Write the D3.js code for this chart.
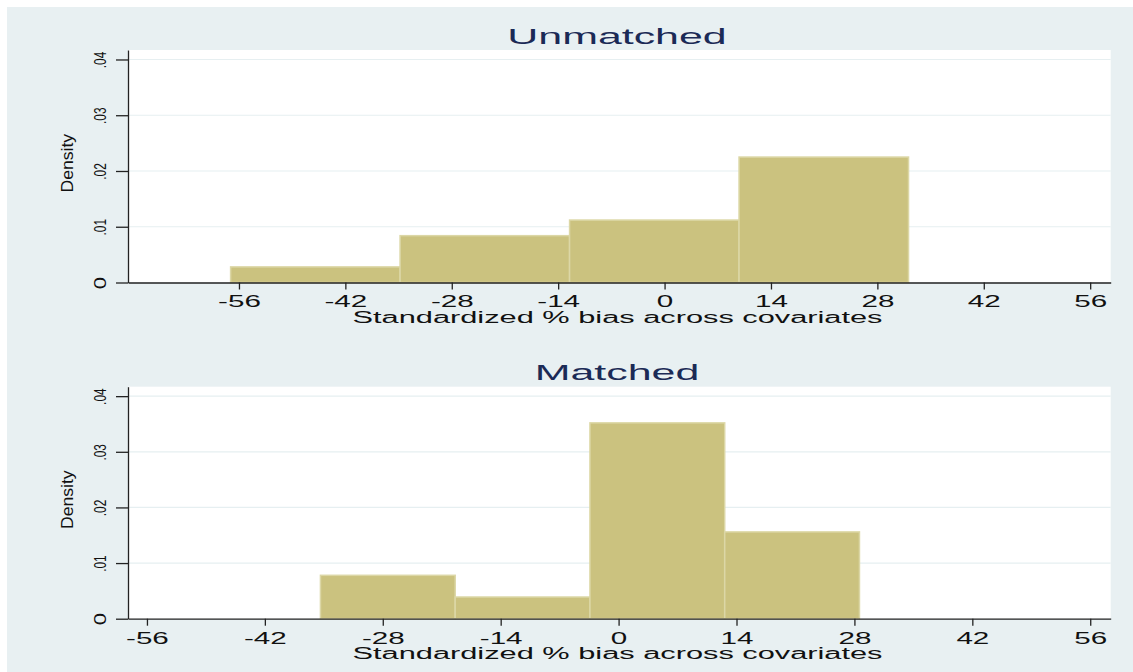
<!DOCTYPE html>
<html>
<head>
<meta charset="utf-8">
<script src="https://cdn.jsdelivr.net/npm/d3@7"></script>
<style>
	body { margin: 0; background: #fff; }
	text { font-family: "Liberation Sans", Arial, sans-serif; }
</style>
</head>
<body>
<div id="chart"></div>
<script>
// tick values and labels
var xTicks = [-56, -42, -28, -14, 0, 14, 28, 42, 56];
var yTicks = [0, 0.01, 0.02, 0.03, 0.04];
var yTickLabels = ["0", ".01", ".02", ".03", ".04"];

// histogram bins
var unmatchedEdges = [-57.1, -34.8, -12.5, 9.8, 32.1];
var unmatchedDensity = [0.0028, 0.0084, 0.0112, 0.0225];
var matchedEdges = [-35.4, -19.4, -3.4, 12.6, 28.6];
var matchedDensity = [0.0078, 0.0039, 0.0352, 0.0156];

var panels = [
	{title: "Unmatched", edges: unmatchedEdges, dens: unmatchedDensity,
	 xDomain: [-70.6, 58.7], top: 50, bottom: 282.5},
	{title: "Matched", edges: matchedEdges, dens: matchedDensity,
	 xDomain: [-58.25, 58.43], top: 386.7, bottom: 618.7}
];

var W = 1133, H = 672;
var left = 128, right = 1110.7;
var bg = "#e8f0f2";

var svg = d3.select("#chart")
	.append("svg")
	.attr("width", W)
	.attr("height", H);

svg.append("rect")
	.attr("x", 7).attr("y", 7)
	.attr("width", W - 7).attr("height", H - 7)
	.style("fill", bg);

panels.forEach(function (p) {
	var x = d3.scaleLinear().domain(p.xDomain).range([left, right]);
	var y = d3.scaleLinear().domain([0, 0.0417]).range([p.bottom, p.top]);

	var g = svg.append("g");

	// plot region
	g.append("rect")
		.attr("x", left).attr("y", p.top)
		.attr("width", right - left).attr("height", p.bottom - p.top)
		.style("fill", "#fff");

	// grid lines
	g.selectAll(".grid").data(yTicks.slice(1))
		.enter().append("line")
		.attr("x1", left).attr("x2", right)
		.attr("y1", function (d) { return y(d); })
		.attr("y2", function (d) { return y(d); })
		.style("stroke", "#e6eff1")
		.style("stroke-width", 1.2);

	// bars
	var bins = p.dens.map(function (d, i) {
		return {x0: p.edges[i], x1: p.edges[i + 1], d: d};
	});
	g.selectAll(".bar").data(bins)
		.enter().append("rect")
		.attr("x", function (b) { return x(b.x0); })
		.attr("y", function (b) { return y(b.d); })
		.attr("width", function (b) { return x(b.x1) - x(b.x0); })
		.attr("height", function (b) { return y(0) - y(b.d); })
		.style("fill", "#cbc27f")
		.style("stroke", "#dcd7a6")
		.style("stroke-width", 1.5);

	// x axis
	var xa = g.append("g")
		.attr("transform", "translate(0," + p.bottom + ")")
		.call(d3.axisBottom(x).tickValues(xTicks).tickSize(7).tickSizeOuter(0)
			.tickFormat(function (d) { return String(d); }));
	xa.select(".domain").style("stroke", "#222").style("stroke-width", 1.3);
	xa.selectAll(".tick line").style("stroke", "#222").style("stroke-width", 1.3);
	xa.selectAll(".tick text")
		.attr("y", 25).attr("dy", null)
		.attr("transform", "scale(1.85,1)")
		.style("font-size", "16px")
		.style("fill", "#111");

	// y axis (labels rotated and squeezed along their length)
	var ya = g.append("g")
		.attr("transform", "translate(" + left + ",0)")
		.call(d3.axisLeft(y).tickValues(yTicks).tickSize(12).tickSizeOuter(0)
			.tickFormat(function (d, i) { return yTickLabels[i]; }));
	ya.select(".domain").style("stroke", "#222").style("stroke-width", 1.3);
	ya.selectAll(".tick line").style("stroke", "#222").style("stroke-width", 1.3);
	ya.selectAll(".tick text")
		.attr("x", null).attr("dy", null)
		.attr("transform", function (d, i) {
			return "translate(-22,0) rotate(-90) scale(" + (i === 0 ? 1.3 : 0.7) + ",1)";
		})
		.attr("text-anchor", "middle")
		.style("font-size", "17px")
		.style("fill", "#111");

	// titles
	g.append("text")
		.attr("transform", "translate(617," + (p.top - 6.5) + ") scale(1.95,1)")
		.attr("text-anchor", "middle")
		.style("font-size", "22px")
		.style("fill", "#1b2a56")
		.text(p.title);

	g.append("text")
		.attr("x", 617.5)
		.attr("y", p.bottom + 40)
		.attr("text-anchor", "middle")
		.attr("textLength", 530)
		.attr("lengthAdjust", "spacingAndGlyphs")
		.style("font-size", "16px")
		.style("fill", "#111")
		.text("Standardized % bias across covariates");

	g.append("text")
		.attr("transform", "translate(73," + ((p.top + p.bottom) / 2 - 3) + ") rotate(-90) scale(1.1,1)")
		.attr("text-anchor", "middle")
		.style("font-size", "16px")
		.style("fill", "#111")
		.text("Density");
});
</script>
</body>
</html>
